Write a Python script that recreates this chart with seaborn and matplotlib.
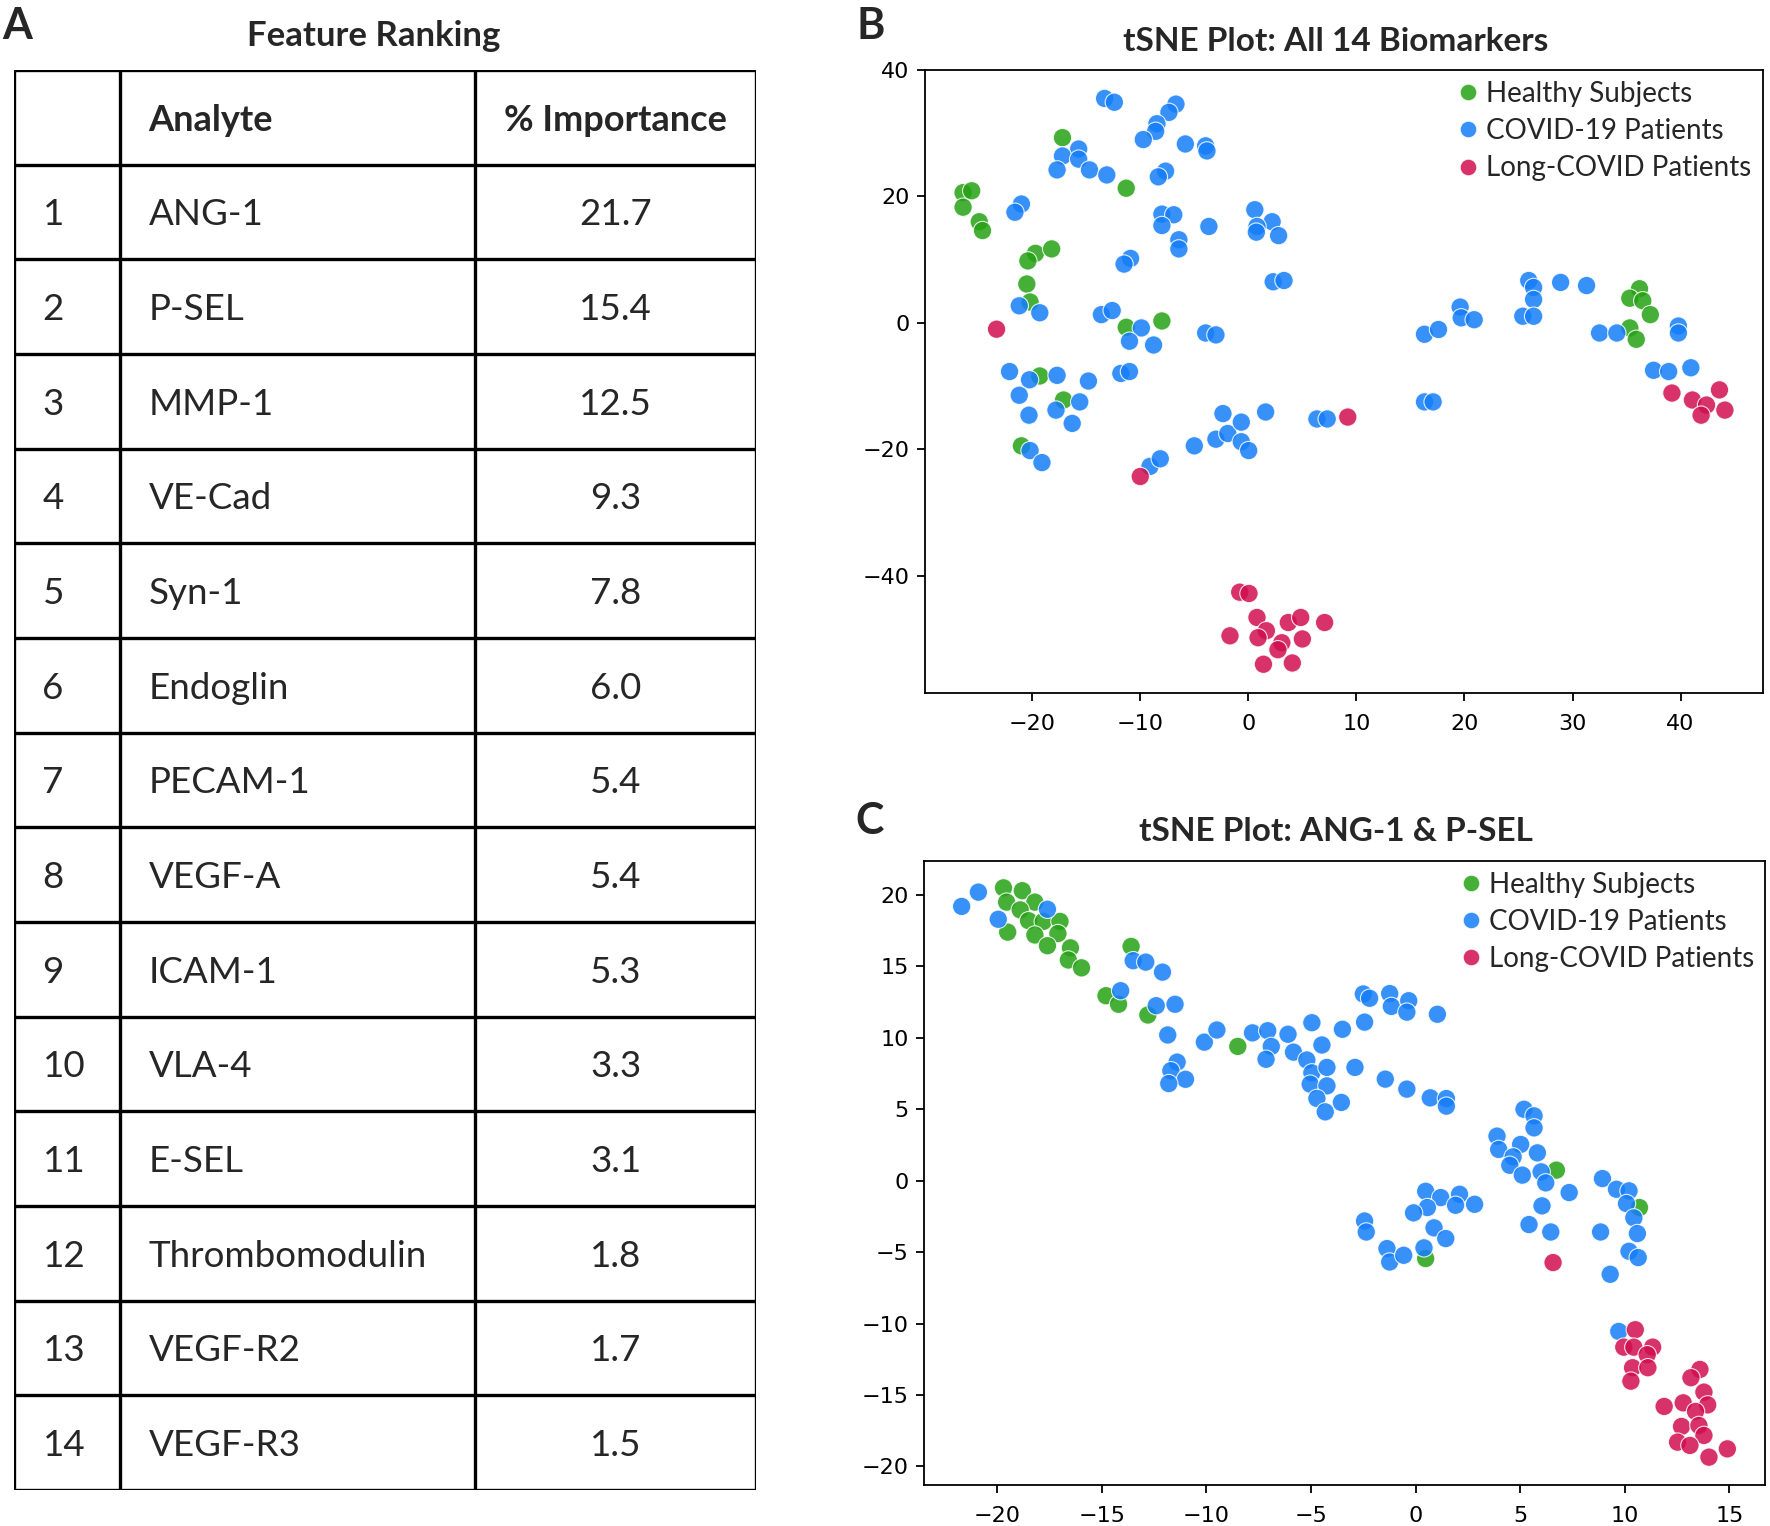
import numpy as np
import pandas as pd
import seaborn as sns
import matplotlib.pyplot as plt
from matplotlib.lines import Line2D

# ---- panel A: feature ranking table ----
ranks = ['1', '2', '3', '4', '5', '6', '7', '8', '9', '10', '11', '12', '13', '14']
analytes = ['ANG-1', 'P-SEL', 'MMP-1', 'VE-Cad', 'Syn-1', 'Endoglin', 'PECAM-1',
            'VEGF-A', 'ICAM-1', 'VLA-4', 'E-SEL', 'Thrombomodulin', 'VEGF-R2', 'VEGF-R3']
importance = [21.7, 15.4, 12.5, 9.3, 7.8, 6.0, 5.4, 5.4, 5.3, 3.3, 3.1, 1.8, 1.7, 1.5]
headers = ['', 'Analyte', '% Importance']

groups = ['Healthy Subjects', 'COVID-19 Patients', 'Long-COVID Patients']
colors = ['#26a114', '#147ef9', '#d00e4f']

# ---- panel B: tSNE on all 14 biomarkers ----
b_healthy_x = [-17.2, -11.3, -26.4, -25.6, -26.4, -24.9, -24.6, -19.7, -18.2, -20.4, -20.5, -20.2,
               -11.3, -8.0, -19.3, -17.1, -21.0, 36.2, 35.3, 36.5, 37.2, 35.3, 35.9]
b_healthy_y = [29.3, 21.3, 20.6, 20.9, 18.3, 16.0, 14.6, 11.0, 11.7, 9.8, 6.15, 3.3,
               -0.7, 0.3, -8.4, -12.2, -19.45, 5.4, 3.9, 3.5, 1.3, -0.8, -2.6]
b_covid_x = [-13.3, -12.4, -6.7, -7.35, -8.46, -8.58, -9.72, -5.83, -3.95, -3.83, -15.7, -17.2,
             -15.7, -17.7, -14.7, -13.1, -7.66, -8.33, -21.0, -21.6, -8.0, -6.9, -8.0, -3.65,
             -6.43, -6.43, 0.6, 2.2, 0.8, 0.74, 2.8, 2.3, 3.3, -10.9, -11.5, -21.2, -19.3,
             -13.6, -12.6, -9.9, -11.0, -8.77, -3.95, -3.0, -22.1, -20.25, -17.7, -14.8, -11.8,
             -11.0, -21.2, -20.3, -17.8, -15.6, -16.3, -20.2, -19.1, -9.1, -8.15, -5.0, -3.0,
             -1.9, -2.35, -0.65, -0.65, 0.03, 1.6, 6.35, 7.3, 16.3, 17.1, 25.95, 26.4, 26.4,
             25.4, 26.4, 28.9, 31.3, 19.6, 19.7, 20.9, 16.3, 17.6, 32.5, 34.1, 39.8, 39.8,
             37.5, 38.9, 40.95]
b_covid_y = [35.5, 34.9, 34.6, 33.3, 31.5, 30.3, 29.0, 28.3, 28.0, 27.2, 27.5, 26.4,
             25.9, 24.2, 24.2, 23.4, 24.0, 23.1, 18.8, 17.5, 17.2, 17.1, 15.4, 15.25,
             13.15, 11.7, 17.9, 16.0, 15.25, 14.35, 13.8, 6.5, 6.7, 10.2, 9.3, 2.7, 1.6,
             1.3, 1.95, -0.8, -2.9, -3.5, -1.6, -1.9, -7.7, -9.0, -8.3, -9.2, -8.0,
             -7.7, -11.45, -14.6, -13.8, -12.5, -15.9, -20.2, -22.1, -22.7, -21.5, -19.45, -18.4,
             -17.5, -14.35, -15.7, -18.8, -20.2, -14.1, -15.2, -15.2, -12.5, -12.5, 6.7, 5.6, 3.7,
             1.05, 1.05, 6.4, 5.9, 2.5, 0.8, 0.5, -1.8, -1.05, -1.6, -1.6, -0.5, -1.6,
             -7.5, -7.7, -7.1]
b_long_x = [-23.3, -10.0, 9.2, -0.8, 0.06, 0.8, 1.67, 0.9, -1.7, 3.7, 4.85, 7.06,
            3.1, 2.74, 5.0, 1.4, 4.07, 39.2, 41.1, 42.4, 41.9, 43.6, 44.1]
b_long_y = [-1.0, -24.3, -14.9, -42.6, -42.8, -46.6, -48.7, -49.8, -49.5, -47.4, -46.6, -47.4,
            -50.6, -51.7, -50.0, -54.0, -53.8, -11.1, -12.2, -13.0, -14.6, -10.6, -13.8]

# ---- panel C: tSNE on ANG-1 & P-SEL ----
c_healthy_x = [-19.7, -18.8, -19.55, -18.2, -18.9, -18.5, -17.8, -17.0, -19.5, -18.2, -17.1, -17.6,
               -16.5, -16.6, -15.97, -13.6, -14.8, -14.2, -12.8, -8.5, 6.73, 10.7, 0.48]
c_healthy_y = [20.5, 20.3, 19.5, 19.5, 18.96, 18.2, 18.15, 18.15, 17.4, 17.2, 17.3, 16.45,
               16.3, 15.45, 14.9, 16.4, 12.95, 12.35, 11.6, 9.4, 0.74, -1.88, -5.45]
c_covid_x = [-21.7, -20.9, -19.95, -17.6, -14.1, -13.5, -12.9, -12.1, -12.4, -11.5, -11.85, -11.4,
             -11.7, -11.0, -11.8, -10.1, -9.5, -7.8, -7.07, -6.9, -7.15, -6.1, -5.84, -4.96,
             -4.48, -5.2, -4.96, -4.24, -5.04, -4.24, -4.72, -4.32, -3.5, -3.55, -2.5, -2.2,
             -1.24, -1.16, -0.33, -0.42, 1.04, -2.44, -2.9, -1.45, -0.42, 0.7, 1.47, 1.47,
             5.18, 5.66, 5.66, 3.89, 3.97, 5.02, 4.66, 5.82, 4.5, 5.1, 6.0, 8.93, 6.22, 9.6,
             10.2, 10.08, 10.43, 10.6, 10.2, 10.64, 9.3, 8.84, 7.34, 6.04, 5.42, 6.46, 0.48,
             1.2, 2.1, 1.91, 2.82, 0.56, -0.1, -2.44, -2.36, 0.88, 1.44, -1.37, -1.24, -0.57,
             0.4, 9.71]
c_covid_y = [19.2, 20.2, 18.3, 19.0, 13.3, 15.4, 15.3, 14.6, 12.25, 12.35, 10.2, 8.3,
             7.7, 7.1, 6.8, 9.7, 10.55, 10.35, 10.5, 9.4, 8.5, 10.25, 9.0, 11.06,
             9.5, 8.45, 7.55, 7.93, 6.76, 6.64, 5.76, 4.82, 10.6, 5.48, 13.07, 12.77,
             13.1, 12.2, 12.6, 11.8, 11.65, 11.1, 7.93, 7.11, 6.41, 5.8, 5.75, 5.22,
             5.0, 4.54, 3.7, 3.12, 2.19, 2.54, 1.67, 1.95, 1.08, 0.39, 0.62, 0.15, -0.15, -0.6,
             -0.71, -1.6, -2.6, -3.7, -4.94, -5.38, -6.55, -3.59, -0.83, -1.76, -3.07, -3.59, -0.74,
             -1.18, -0.95, -1.72, -1.65, -1.88, -2.25, -2.82, -3.59, -3.3, -4.05, -4.75, -5.69, -5.22,
             -4.7, -10.55]
c_long_x = [6.57, 10.5, 9.95, 10.43, 11.33, 11.07, 10.37, 11.1, 10.29, 13.59, 13.16, 13.78,
            13.96, 11.88, 12.79, 13.38, 12.71, 13.54, 13.78, 12.52, 13.11, 14.02, 14.9]
c_long_y = [-5.73, -10.43, -11.65, -11.65, -11.65, -12.18, -13.09, -13.09, -14.03, -13.21, -13.79, -14.8,
            -15.69, -15.8, -15.55, -16.15, -17.2, -17.13, -17.83, -18.3, -18.53, -19.35, -18.77]

W, H = 1770, 1526
TXT = ['Lato', 'DejaVu Sans']


def make_df(hx, hy, cx, cy, lx, ly):
    return pd.DataFrame({
        'tsne1': hx + cx + lx,
        'tsne2': hy + cy + ly,
        'group': [groups[0]] * len(hx) + [groups[1]] * len(cx) + [groups[2]] * len(lx),
    })


def tsne_panel(ax, df, title, xticks, yticks, xlim, ylim):
    sns.scatterplot(data=df, x='tsne1', y='tsne2', hue='group', hue_order=groups,
                    palette=colors, s=175, alpha=0.85, linewidth=0.8, legend=False, ax=ax)
    ax.set_xlim(*xlim)
    ax.set_ylim(*ylim)
    ax.set_xticks(xticks)
    ax.set_yticks(yticks)
    ax.set_xlabel('')
    ax.set_ylabel('')
    ax.set_title(title, family=TXT, fontsize=24, fontweight='bold', pad=14, x=0.49)
    ax.tick_params(labelsize=16, length=6, width=1.3, pad=5, color='black', labelcolor='black')
    ax.tick_params(axis='x', pad=9)
    for sp in ax.spines.values():
        sp.set_linewidth(1.3)
        sp.set_color('black')
    handles = [Line2D([], [], ls='', marker='o', markersize=12, color=c, alpha=0.85,
                      markeredgecolor='w', markeredgewidth=0.8) for c in colors]
    ax.legend(handles, groups, loc='upper right', frameon=False,
              prop={'family': TXT, 'size': 20}, handletextpad=0.15, labelspacing=0.4,
              borderaxespad=0.3, borderpad=0.1, handlelength=1.0)


sns.set_style('ticks')
plt.rcParams['font.family'] = ['DejaVu Sans']

fig = plt.figure(figsize=(W / 100, H / 100), dpi=100)

# table
ax_t = fig.add_axes([13.5 / W, 1 - 1490 / H, (756.3 - 13.5) / W, (1490 - 70) / H])
ax_t.set_xlim(0, 742.8)
ax_t.set_ylim(15, 0)
ax_t.axis('off')
col_edges = [0, 106.2, 461.7, 742.8]
for x in col_edges:
    ax_t.plot([x, x], [0, 15], color='black', lw=2.4, solid_capstyle='projecting')
for r in range(16):
    ax_t.plot([0, 742.8], [r, r], color='black', lw=2.4, solid_capstyle='projecting')
ax_t.text(col_edges[1] + 29, 0.53, headers[1], ha='left', va='center', family=TXT,
          fontsize=26, fontweight='bold')
ax_t.text((col_edges[2] + col_edges[3]) / 2, 0.53, headers[2], ha='center', va='center',
          family=TXT, fontsize=26, fontweight='bold')
for i, (rk, name, imp) in enumerate(zip(ranks, analytes, importance)):
    yc = i + 1.53
    ax_t.text(col_edges[0] + 29, yc, rk, ha='left', va='center', family=TXT, fontsize=26.5)
    ax_t.text(col_edges[1] + 29, yc, name, ha='left', va='center', family=TXT, fontsize=26.5)
    ax_t.text((col_edges[2] + col_edges[3]) / 2, yc, f'{imp:.1f}', ha='center', va='center',
              family=TXT, fontsize=26.5)
fig.text(374 / W, 1 - 36 / H, 'Feature Ranking', ha='center', va='center', family=TXT,
         fontsize=25, fontweight='bold')

# scatter panels
ax_b = fig.add_axes([924.7 / W, 1 - 692.7 / H, 838 / W, 622.7 / H])
tsne_panel(ax_b, make_df(b_healthy_x, b_healthy_y, b_covid_x, b_covid_y, b_long_x, b_long_y),
           'tSNE Plot: All 14 Biomarkers', [-20, -10, 0, 10, 20, 30, 40], [-40, -20, 0, 20, 40],
           (-29.95, 47.6), (-58.5, 39.8))

ax_c = fig.add_axes([924 / W, 1 - 1485 / H, 841 / W, 624.3 / H])
tsne_panel(ax_c, make_df(c_healthy_x, c_healthy_y, c_covid_x, c_covid_y, c_long_x, c_long_y),
           'tSNE Plot: ANG-1 & P-SEL', [-20, -15, -10, -5, 0, 5, 10, 15],
           [-20, -15, -10, -5, 0, 5, 10, 15, 20], (-23.5, 16.7), (-21.3, 22.4))

# panel letters
for lab, px, py in [('A', 2, 6), ('B', 857, 6), ('C', 855, 801)]:
    fig.text(px / W, 1 - py / H, lab, ha='left', va='top', family=TXT, fontsize=31,
             fontweight='bold')

fig.savefig('out.png', dpi=100, facecolor='white')
